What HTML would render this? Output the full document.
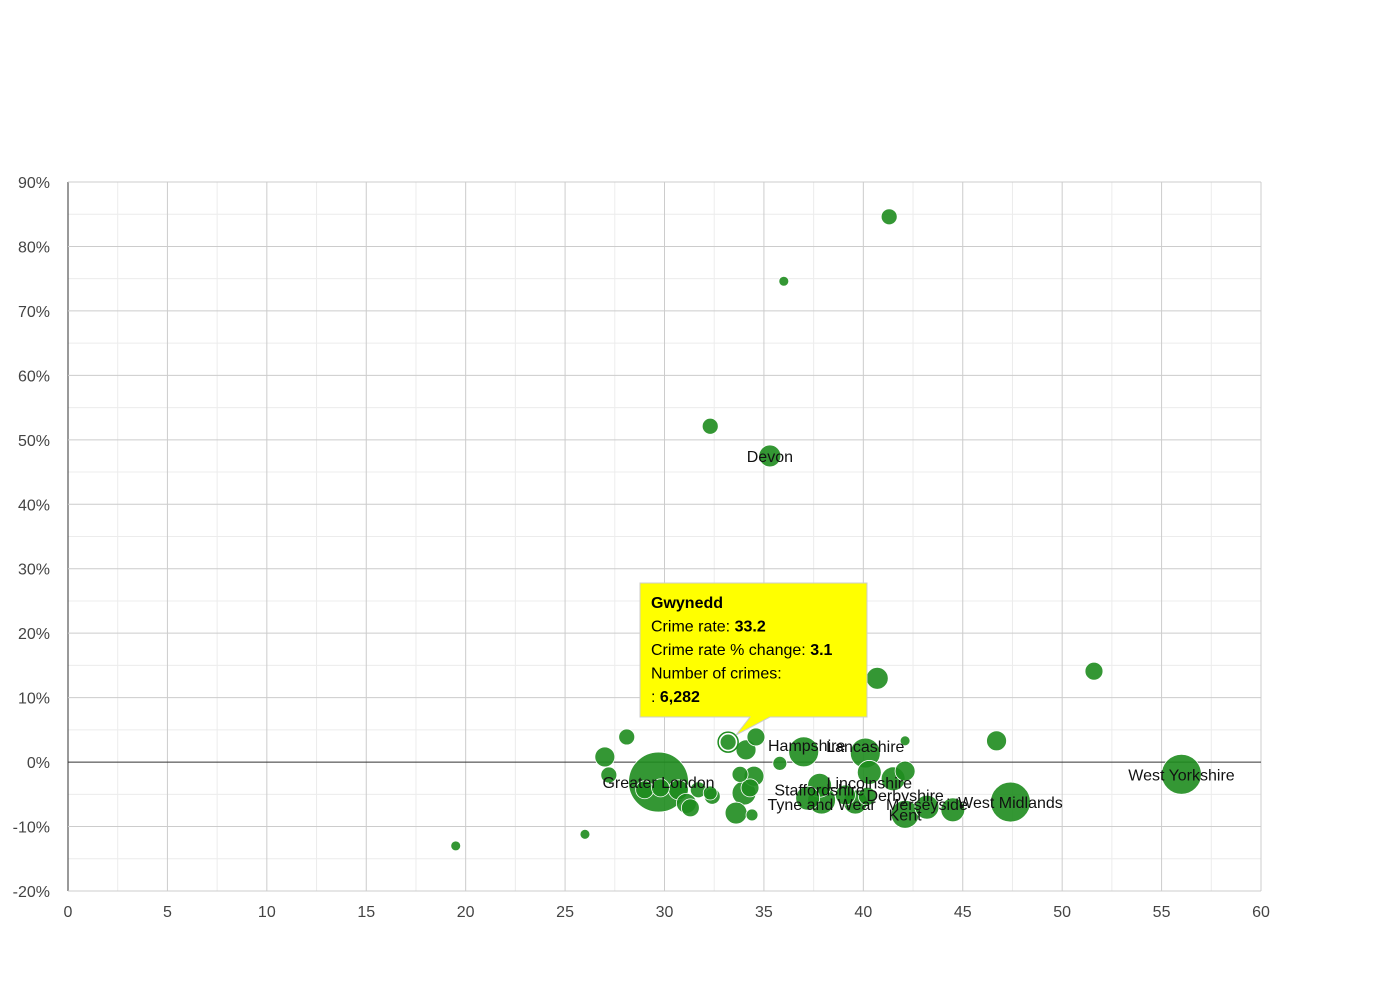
<!DOCTYPE html>
<html><head><meta charset="utf-8"><style>
body{margin:0;background:#fff;font-family:"Liberation Sans",Arial,sans-serif}
svg text{font-family:"Liberation Sans",Arial,sans-serif}
</style></head><body>
<svg id="c" width="1390" height="980"></svg>
<script>
const names=["","","","","","Devon","","","","","West Yorkshire","West Midlands","Greater London","","","","Gwynedd","","","","Hampshire","Lancashire","Lincolnshire","","Derbyshire","Staffordshire","","","","","","","","Tyne and Wear","","","","Kent","Merseyside","","","","","","","","",""];
const rates=[19.5,26.0,32.3,36.0,41.3,35.3,40.7,51.6,46.7,42.1,56.0,47.4,29.7,27.0,28.1,27.2,33.2,34.6,34.1,35.8,37.0,40.1,40.3,42.1,41.5,37.8,34.5,33.8,34.0,34.3,33.6,34.4,37.2,37.9,39.1,39.6,40.2,42.1,43.2,44.5,29.0,29.8,30.7,31.1,31.3,31.7,32.4,32.3];
const changes=[-13.0,-11.2,52.1,74.6,84.6,47.5,13.0,14.1,3.3,3.3,-1.9,-6.2,-3.1,0.8,3.9,-2.0,3.1,3.9,1.9,-0.2,1.6,1.4,-1.6,-1.4,-2.6,-3.6,-2.2,-1.9,-4.8,-4.0,-7.9,-8.2,-5.6,-5.9,-5.1,-6.2,-5.3,-8.1,-7.0,-7.4,-4.3,-4.0,-4.3,-6.4,-7.1,-4.3,-5.3,-4.8];
const crimes=[2400,2400,6282,2400,6282,11800,11800,7900,9800,2400,39000,39000,88000,9800,6282,6282,6282,7900,9800,4800,22000,22000,14000,9800,14000,14000,9800,6282,14000,7900,11800,3500,14000,19000,9800,14000,7900,19000,14000,14000,7900,7900,9800,9800,7900,6282,6282,4800];
const xTicks=[0,5,10,15,20,25,30,35,40,45,50,55,60];
const yTicks=[-20,-10,0,10,20,30,40,50,60,70,80,90];
const X0=68,X1=1261,Y0=891,Y1=182;
const sx=v=>X0+(v-0)/60*(X1-X0);
const sy=v=>Y0-(v+20)/110*(Y0-Y1);
const sr=c=>0.101*Math.sqrt(c);
const svg=document.getElementById('c');const NS="http://www.w3.org/2000/svg";
function mk(t,a,p){const e=document.createElementNS(NS,t);for(const k in a)e.setAttribute(k,a[k]);(p||svg).appendChild(e);return e;}
// minor grid
for(let v=2.5;v<60;v+=5){const l=mk('line',{x1:sx(v),x2:sx(v),y1:Y1,y2:Y0,stroke:'#ececec'});}
for(let v=-15;v<90;v+=10){const l=mk('line',{x1:X0,x2:X1,y1:sy(v),y2:sy(v),stroke:'#ececec'});}
xTicks.forEach(v=>{const l=mk('line',{x1:sx(v),x2:sx(v),y1:Y1,y2:Y0,stroke:v===0?'#333':'#cccccc'});
const t=mk('text',{x:sx(v),y:917,'text-anchor':'middle','font-size':16,fill:'#444'});t.textContent=v;});
yTicks.forEach(v=>{const l=mk('line',{x1:X0,x2:X1,y1:sy(v),y2:sy(v),stroke:v===0?'#333':'#cccccc'});
const t=mk('text',{x:50,y:sy(v)+6,'text-anchor':'end','font-size':16,fill:'#444'});t.textContent=v+'%';});
const g=mk('g',{});
const order=rates.map((r,i)=>i).sort((a,b)=>crimes[b]-crimes[a]);
order.forEach(i=>{const c=mk('circle',{cx:sx(rates[i]),cy:sy(changes[i]),r:sr(crimes[i]),fill:'#1e8c1e','fill-opacity':0.9,stroke:'#fff','stroke-width':0.8},g);

});
// highlight Gwynedd
const hi=16;
const h=mk('circle',{cx:sx(rates[hi]),cy:sy(changes[hi]),r:sr(crimes[hi])+2,fill:'none',stroke:'#1e8c1e','stroke-width':1.5});


const labs=[[5,0,0],[20,3,-7],[21,0,-7],[22,0,10],[24,12,16],[25,0,4],[12,0,0],[33,0,4],[38,0,-3],[37,0,0],[11,0,0],[10,0,0]];
labs.forEach(([i,dx,dy])=>{const t=mk('text',{x:sx(rates[i])+dx,y:sy(changes[i])+dy+6,'text-anchor':'middle','font-size':16,fill:'#111'});t.textContent=names[i];

});
// tooltip
const tg=mk('g',{});
mk('path',{d:'M640,583 H867 V717 H770 L736,735 L750,717 H640 Z',fill:'#ffff00',stroke:'#ccc','stroke-width':1},tg);
const lines=[['Gwynedd',''],['Crime rate: ','33.2'],['Crime rate % change: ','3.1'],['Number of crimes:',''],[': ','6,282']];
lines.forEach((l,k)=>{const t=mk('text',{x:651,y:608+k*23.5,'font-size':16,fill:'#000'},tg);
if(k===0){t.setAttribute('font-weight','bold');t.textContent=l[0];}else{const a=mk('tspan',{},t);a.textContent=l[0];const b=mk('tspan',{'font-weight':'bold'},t);b.textContent=l[1];}});
</script>
</body></html>
